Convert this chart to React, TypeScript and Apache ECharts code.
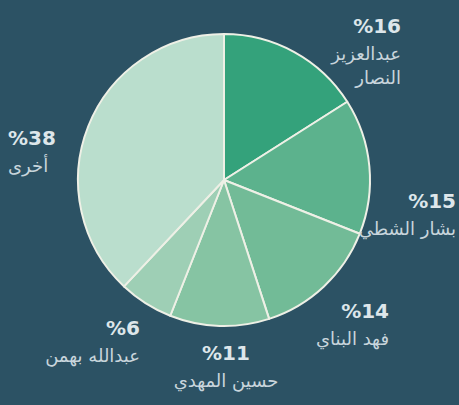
import React, { useEffect, useRef } from "react";
import * as echarts from "echarts";

const names = ["عبدالعزيز النصار", "بشار الشطي", "فهد البناي", "حسين المهدي", "عبدالله بهمن", "أخرى"];
const values = [16, 15, 14, 11, 6, 38];
const colors = ["#34a27b", "#5cb28d", "#72bb97", "#86c4a3", "#9ecfb5", "#badecd"];

// label anchor layout (x, y of the top of the label block, alignment)
const labelPos: { x: number; y: number; align: string }[] = [
  { x: 401, y: 11, align: "right" },
  { x: 456, y: 186, align: "right" },
  { x: 389, y: 296, align: "right" },
  { x: 226, y: 338, align: "center" },
  { x: 140, y: 313, align: "right" },
  { x: 8, y: 123, align: "left" },
];

export default function App() {
  const ref = useRef<HTMLDivElement>(null);
  useEffect(() => {
    document.body.style.margin = "0";
    const chart = echarts.init(ref.current!, null, { renderer: "svg" });
    chart.setOption({
      animation: false,
      backgroundColor: "#2c5264",
      series: [
        {
          type: "pie",
          center: [224, 180],
          radius: 146,
          startAngle: 90,
          clockwise: true,
          silent: true,
          itemStyle: { borderColor: "#eef0e6", borderWidth: 2 },
          labelLine: { show: false },
          label: {
            show: true,
            position: "outside",
            overflow: "none",
            width: 200,
            color: "#cfdbe1",
            formatter: (p: any) => {
              const n = p.dataIndex === 0 ? p.name.replace(" ", "}\n{n|") : p.name;
              return `{p|%${p.value}}\n{n|${n}}`;
            },
            rich: {
              p: { fontFamily: "DejaVu Sans", fontWeight: "bold", fontSize: 20, color: "#dde6ea", lineHeight: 30 },
              n: { fontFamily: "DejaVu Sans", fontSize: 18, color: "#c8d5dc", lineHeight: 24 },
            },
          },
          labelLayout: (params: any) => {
            const l = labelPos[params.dataIndex];
            return { x: l.x, y: l.y, align: l.align, verticalAlign: "top" };
          },
          data: names.map((n, i) => ({ name: n, value: values[i], itemStyle: { color: colors[i] } })),
        },
      ],
    });
    return () => chart.dispose();
  }, []);
  return <div ref={ref} style={{ width: 459, height: 405 }} />;
}
